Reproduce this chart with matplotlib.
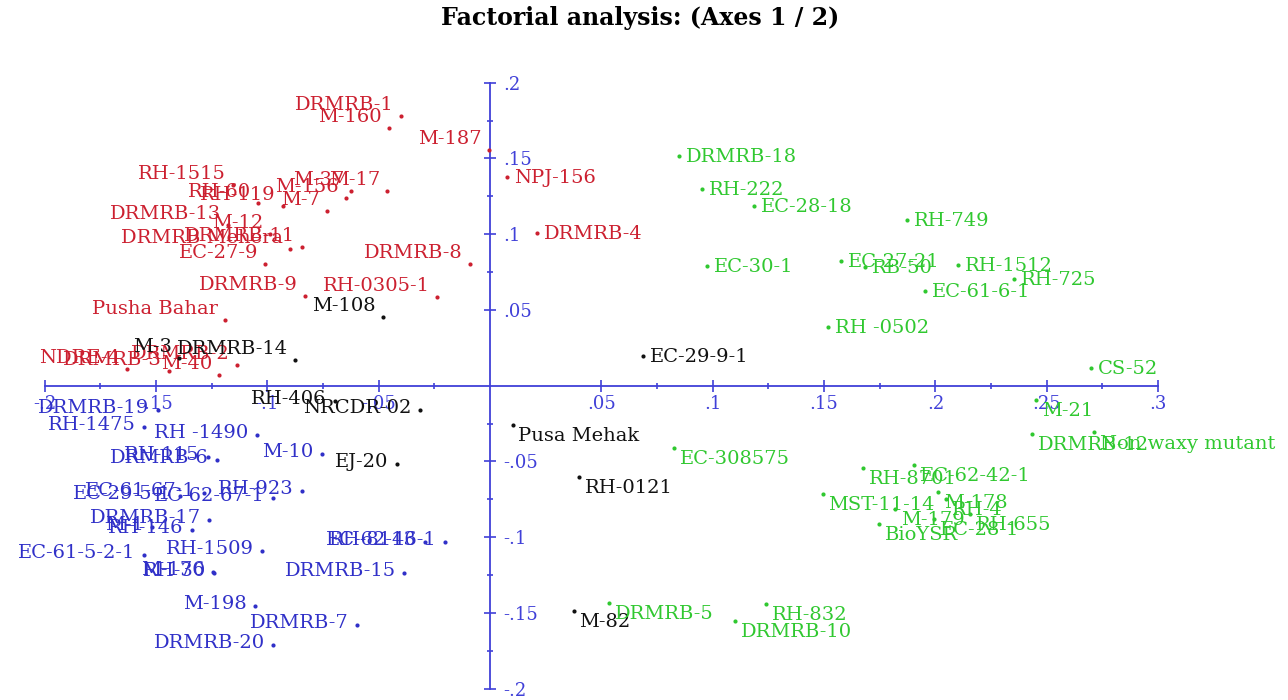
import matplotlib.pyplot as plt
from matplotlib.ticker import FixedLocator, FuncFormatter

# Coordinates of the genotypes on factorial axes F1 (x) and F2 (y), one set per cluster
red_names = ["DRMRB-1", "M-160", "M-187", "NPJ-156", "DRMRB-4", "M-17", "M-37",
             "M-156", "M-7", "RH-119", "RH-60", "RH-1515", "DRMRB-13", "M-12",
             "DRMRB-11", "DRMRB Mehera", "EC-27-9", "DRMRB-8", "DRMRB-9",
             "RH-0305-1", "Pusha Bahar", "NDRE-4", "DRMRB-3", "M-40", "DRMRB-2"]
red_f1 = [-0.0400, -0.0454, -0.0004, 0.0076, 0.0211, -0.0463, -0.0624,
          -0.0647, -0.0732, -0.0930, -0.1042, -0.1154, -0.1176, -0.0988,
          -0.0844, -0.0898, -0.1010, -0.0090, -0.0831,
          -0.0238, -0.1190, -0.1630, -0.1441, -0.1217, -0.1136]
red_f2 = [0.1782, 0.1703, 0.1558, 0.1380, 0.1010, 0.1287, 0.1287,
          0.1241, 0.1155, 0.1188, 0.1208, 0.1327, 0.1063, 0.1003,
          0.0917, 0.0904, 0.0805, 0.0805, 0.0594,
          0.0587, 0.0436, 0.0112, 0.0099, 0.0073, 0.0139]

black_names = ["M-108", "M-3", "DRMRB-14", "RH-406", "NRCDR-02", "EJ-20",
               "Pusa Mehak", "RH-0121", "M-82", "EC-29-9-1"]
black_f1 = [-0.0480, -0.1397, -0.0876, -0.0696, -0.0314, -0.0418,
            0.0103, 0.0400, 0.0377, 0.0687]
black_f2 = [0.0455, 0.0185, 0.0172, -0.0099, -0.0158, -0.0515,
            -0.0257, -0.0601, -0.1485, 0.0198]

blue_names = ["DRMRB-19", "RH-1475", "RH -1490", "RH-115", "DRMRB-6", "M-10",
              "EC-61-67-1", "RH-923", "EC-29-5-1", "EC-62-67-1", "DRMRB-17",
              "M-1", "RH-146", "EC-61-5-2-1", "RH-1509", "RH-8113", "EC-62-46-1",
              "M-176", "RH-30", "DRMRB-15", "M-198", "DRMRB-7", "DRMRB-20"]
blue_f1 = [-0.1491, -0.1554, -0.1046, -0.1266, -0.1226, -0.0754,
           -0.1284, -0.0844, -0.1392, -0.0974, -0.1262,
           -0.1518, -0.1338, -0.1554, -0.1024, -0.0292, -0.0202,
           -0.1244, -0.1239, -0.0386, -0.1055, -0.0597, -0.0974]
blue_f2 = [-0.0158, -0.0271, -0.0323, -0.0469, -0.0488, -0.0449,
           -0.0706, -0.0693, -0.0726, -0.0739, -0.0884,
           -0.0931, -0.0950, -0.1116, -0.1089, -0.1030, -0.1030,
           -0.1228, -0.1234, -0.1234, -0.1452, -0.1578, -0.1710]

green_names = ["DRMRB-18", "RH-222", "EC-28-18", "EC-30-1", "RH-749", "EC-27-21",
               "RB-50", "RH-1512", "RH-725", "EC-61-6-1", "RH -0502", "CS-52",
               "EC-308575", "DRMRB-5", "RH-832", "DRMRB-10", "M-21", "DRMRB-12",
               "Non waxy mutant", "RH-8701", "EC-62-42-1", "MST-11-14", "M-178",
               "RH-4", "M-179", "EC-28-1", "RH-655", "BioYSR"]
green_f1 = [0.0849, 0.0952, 0.1185, 0.0974, 0.1872, 0.1576,
            0.1684, 0.2101, 0.2353, 0.1953, 0.1518, 0.2699,
            0.0826, 0.0534, 0.1239, 0.1100, 0.2452, 0.2434,
            0.2712, 0.1675, 0.1904, 0.1495, 0.2012,
            0.2048, 0.1819, 0.1994, 0.2155, 0.1747]
green_f2 = [0.1518, 0.1300, 0.1188, 0.0792, 0.1096, 0.0825,
            0.0785, 0.0799, 0.0706, 0.0627, 0.0389, 0.0119,
            -0.0409, -0.1432, -0.1439, -0.1551, -0.0092, -0.0317,
            -0.0304, -0.0541, -0.0521, -0.0713, -0.0700,
            -0.0746, -0.0812, -0.0878, -0.0845, -0.0911]

axis_ticks = [-0.2, -0.15, -0.1, -0.05, 0.05, 0.1, 0.15, 0.2, 0.25, 0.3]

AXIS_BLUE = "#4040d8"
groups = [
    (red_names, red_f1, red_f2, "#cc2030"),
    (black_names, black_f1, black_f2, "#111111"),
    (blue_names, blue_f1, blue_f2, "#3030c8"),
    (green_names, green_f1, green_f2, "#30c830"),
]

plt.rcParams["font.family"] = ["DejaVu Serif"]


def short_label(v, pos=None):
    if abs(v) < 1e-9:
        return ""
    s = f"{v:.2f}".rstrip("0").rstrip(".")
    return s.replace("0.", ".")


def place_label(ax, name, x, y, color):
    # label side depends on the quadrant, like the XLSTAT biplot
    if x < 0 and y >= 0:
        kw = dict(xytext=(-5, 4), ha="right", va="baseline")
    elif x >= 0 and y >= 0:
        kw = dict(xytext=(5, -1), ha="left", va="center")
    elif x < 0:
        kw = dict(xytext=(-6, 1), ha="right", va="center")
    else:
        kw = dict(xytext=(4, -2), ha="left", va="top")
    ax.annotate(name, (x, y), textcoords="offset points", color=color,
                fontsize=14, **kw)


fig = plt.figure(figsize=(12.88, 7), dpi=100)
ax = fig.add_axes([0, 0, 1, 1])
ax.set_xlim(-0.2200, 0.3583)
ax.set_ylim(-0.2075, 0.2546)

ax.spines["top"].set_visible(False)
ax.spines["left"].set_visible(False)
ax.spines["bottom"].set_position(("data", 0))
ax.spines["right"].set_position(("data", 0))
ax.spines["bottom"].set_bounds(-0.2, 0.3)
ax.spines["right"].set_bounds(-0.2, 0.2)
for side in ("bottom", "right"):
    ax.spines[side].set_color(AXIS_BLUE)
    ax.spines[side].set_linewidth(1.3)

ax.xaxis.set_ticks_position("bottom")
ax.yaxis.set_ticks_position("right")
ax.xaxis.set_major_locator(FixedLocator(axis_ticks))
ax.yaxis.set_major_locator(FixedLocator([t for t in axis_ticks if abs(t) <= 0.2]))
ax.xaxis.set_minor_locator(FixedLocator([t + 0.025 for t in axis_ticks[:-1]]))
ax.yaxis.set_minor_locator(FixedLocator([t + 0.025 for t in axis_ticks[:7]]))
ax.xaxis.set_major_formatter(FuncFormatter(short_label))
ax.yaxis.set_major_formatter(FuncFormatter(short_label))
ax.tick_params(which="major", direction="inout", length=9, width=1.2,
               color=AXIS_BLUE, labelcolor=AXIS_BLUE, labelsize=13)
ax.tick_params(which="minor", direction="inout", length=5, width=1.2,
               color=AXIS_BLUE)
ax.tick_params(axis="x", pad=2)
ax.tick_params(axis="y", pad=5)

for names, f1, f2, color in groups:
    ax.scatter(f1, f2, s=9, color=color, zorder=3, linewidths=0)
    for name, x, y in zip(names, f1, f2):
        place_label(ax, name, x, y, color)

fig.text(0.497, 1 - 18 / 700, "Factorial analysis: (Axes 1 / 2)",
         ha="center", va="center", fontsize=17, fontweight="bold")

fig.savefig("out.png", dpi=100, facecolor="white")
plt.close()
